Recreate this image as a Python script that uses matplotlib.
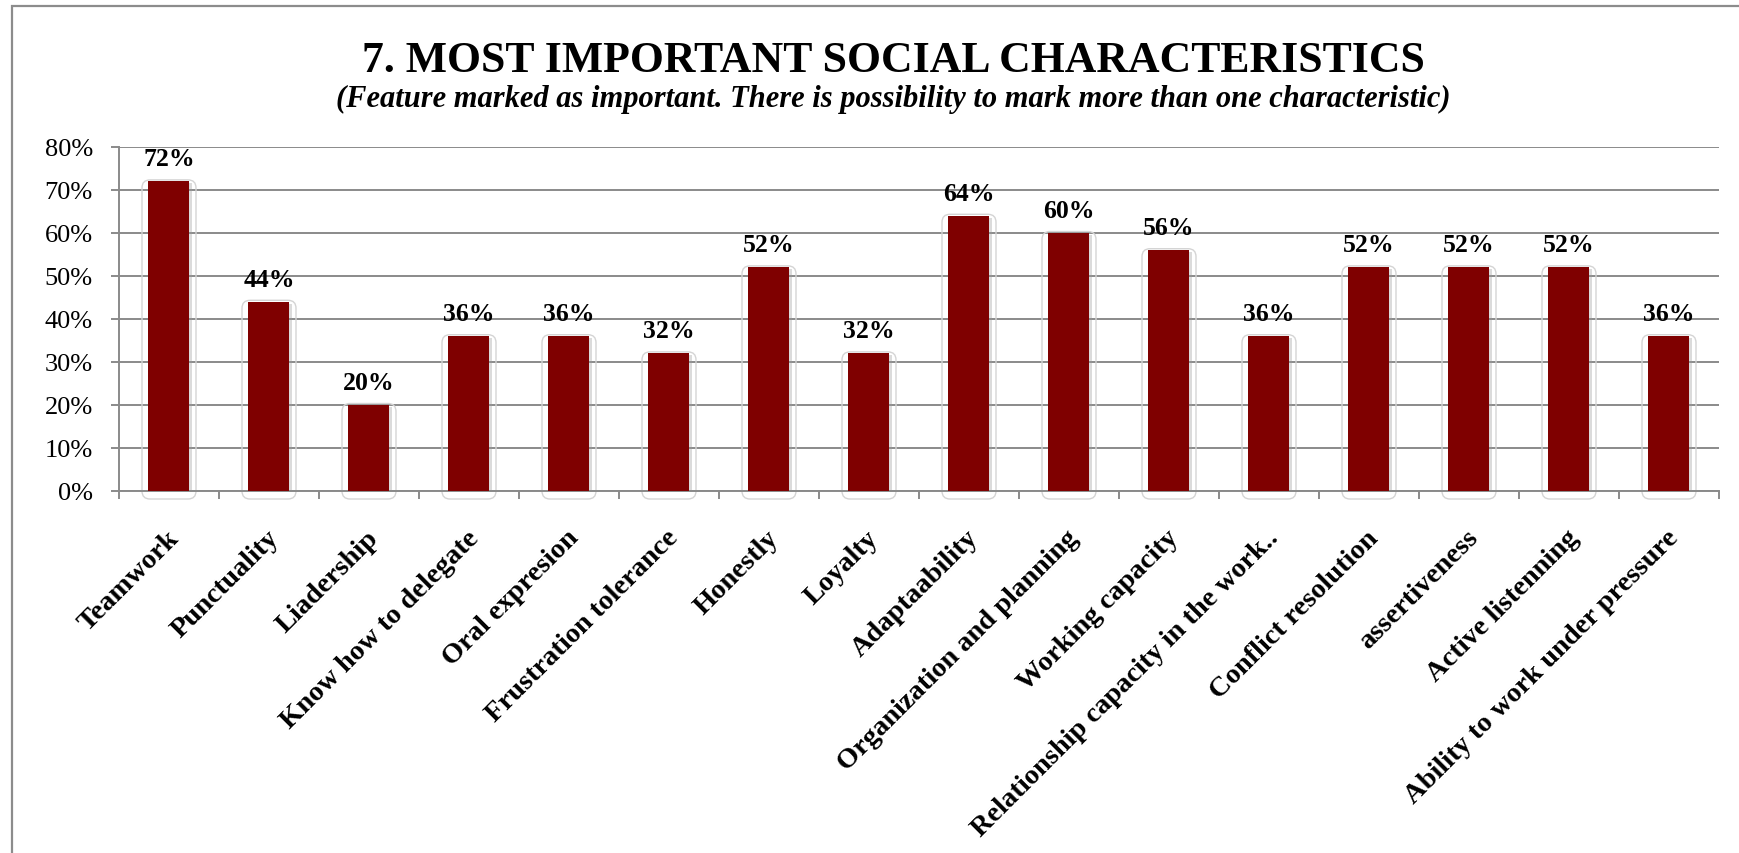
import matplotlib
matplotlib.use("Agg")
import matplotlib.pyplot as plt
from matplotlib.patches import Rectangle, FancyBboxPatch
from matplotlib.transforms import offset_copy, IdentityTransform
import numpy as np

# ---- data ----
categories = ["Teamwork", "Punctuality", "Liadership", "Know how to delegate",
              "Oral expresion", "Frustration tolerance", "Honestly", "Loyalty",
              "Adaptaability", "Organization and planning", "Working capacity",
              "Relationship capacity in the work..", "Conflict resolution",
              "assertiveness", "Active listenning", "Ability to work under pressure"]
values = [72, 44, 20, 36, 36, 32, 52, 32, 64, 60, 56, 36, 52, 52, 52, 36]
yticks = [0, 10, 20, 30, 40, 50, 60, 70, 80]
ytick_labels = ["0%", "10%", "20%", "30%", "40%", "50%", "60%", "70%", "80%"]
title = "7. MOST IMPORTANT SOCIAL CHARACTERISTICS"
subtitle = "(Feature marked as important. There is possibility to mark more than one characteristic)"

SERIF = "Liberation Serif"
BAR = "#7f0000"
GRID = "#8a8a8a"

W, H = 1740, 854
fig = plt.figure(figsize=(W / 100, H / 100), dpi=100)
fig.patch.set_facecolor("white")

# outer chart frame (extends beyond right/bottom edges)
fig.patches.append(Rectangle((12 / W, -0.05), 1.2, 1 - 7 / H + 0.05,
                             transform=fig.transFigure, fill=False,
                             ec="#8c8c8c", lw=1.6))

ax = fig.add_axes([119 / W, 362 / H, 1600 / W, 344 / H])
ax.set_xlim(-0.5, len(categories) - 0.5)
ax.set_ylim(0, 80)

x = np.arange(len(categories))
bw = 0.41

# bar shadows
shadow_tr = offset_copy(ax.transData, fig=fig, x=2.5, y=-2, units="dots")
ax.bar(x, values, width=bw, color="#9a9a9a", alpha=0.35, transform=shadow_tr,
       zorder=2, linewidth=0)
ax.bar(x, values, width=bw, color=BAR, zorder=3, linewidth=0)

# rounded light outline around each bar
for xi, v in zip(x, values):
    (px0, py0) = ax.transData.transform((xi, 0))
    (px1, py1) = ax.transData.transform((xi, v))
    box = FancyBboxPatch((px0 - 27 + 8, py0), 54 - 16, (py1 - py0) + 1.5 - 8,
                         boxstyle="round,pad=8", transform=IdentityTransform(),
                         fill=False, ec="#d4d4d4", lw=1.0, zorder=2.5,
                         clip_on=False)
    ax.add_artist(box)

# value labels
for xi, v in zip(x, values):
    ax.annotate(f"{v}%", (xi, v), xytext=(0, 16 * 0.72), textcoords="offset points",
                ha="center", va="baseline", fontsize=18.5, fontweight="bold",
                family=SERIF, color="black", zorder=5)

# axes styling
for s in ["top", "right"]:
    ax.spines[s].set_visible(False)
for s in ["left", "bottom"]:
    ax.spines[s].set_color(GRID)
    ax.spines[s].set_linewidth(1.4)

ax.set_yticks(yticks)
ax.set_yticklabels(ytick_labels, family=SERIF, fontsize=19)
ax.tick_params(axis="y", length=5.8, width=1.4, color=GRID, pad=13, direction="out")
ax.yaxis.grid(True, color=GRID, linewidth=1.4)
ax.set_axisbelow(True)

ax.set_xticks(np.arange(-0.5, len(categories), 1.0))
ax.set_xticklabels([])
ax.tick_params(axis="x", length=5.8, width=1.4, color=GRID, direction="out")

# rotated category labels
lab_tr = offset_copy(ax.get_xaxis_transform(), fig=fig, x=-3, y=-34, units="dots")
for xi, c in zip(x, categories):
    ax.text(xi, 0, c, transform=lab_tr, rotation=45, rotation_mode="anchor",
            ha="right", va="top", fontsize=20.5, fontweight="bold", family=SERIF,
            color="black")

fig.text(893 / W, 1 - 72 / H, title, ha="center", va="baseline", fontsize=31.5,
         fontweight="bold", family=SERIF)
fig.text(893 / W, 1 - 107 / H, subtitle, ha="center", va="baseline", fontsize=22,
         fontweight="bold", style="italic", family=SERIF)

fig.savefig("out.png", dpi=100, facecolor="white")
